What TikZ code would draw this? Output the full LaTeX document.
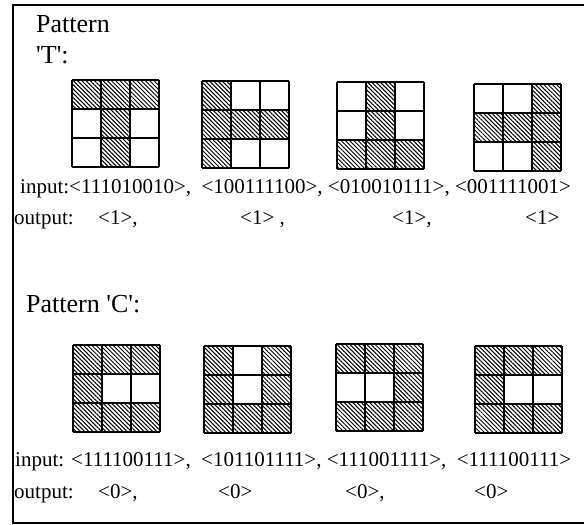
\documentclass[tikz,border=0pt]{standalone}
\usepackage{fontspec}
\setmainfont{Liberation Serif}
\usetikzlibrary{patterns.meta}
\tikzset{
  hatch/.style={pattern={Lines[angle=-45,distance=3pt,line width=1pt]}},
  gridline/.style={line width=1.3pt,black},
  frame/.style={line width=1.8pt,black},
  title/.style={anchor=base west,inner sep=0pt,font=\fontsize{26}{30}\selectfont},
  code/.style={anchor=base west,inner sep=0pt,font=\fontsize{21}{25}\selectfont},
}
\newcommand{\hgrid}[3]{%
  \foreach \b [count=\k from 0] in {#3} {
    \pgfmathtruncatemacro\rr{\k/3}
    \pgfmathtruncatemacro\cc{mod(\k,3)}
    \ifnum\b=1 \fill[hatch] (#1+\cc*29,#2+\rr*29) rectangle ++(29,29);\fi
  }
  \foreach \i in {0,...,3} {
    \draw[gridline] (#1+\i*29,#2) -- (#1+\i*29,#2+87);
    \draw[gridline] (#1,#2+\i*29) -- (#1+87,#2+\i*29);
  }
}
\begin{document}
\begin{tikzpicture}[x=1pt,y=-1pt]
\useasboundingbox (0,0) rectangle (584,525);
\fill[white] (0,0) rectangle (584,525);
% frame
\draw[frame] (584,5) -- (13,5) -- (13,523) -- (584,523);
% titles
\node[title] (tp) at (36,32) {Pattern};
\node[title] (tt) at (36,63) {\textquotesingle T\textquotesingle:};
\node[title] (cp) at (26,312) {Pattern \textquotesingle C\textquotesingle:};
% T grids
\hgrid{72}{80}{1,1,1,0,1,0,0,1,0}
\hgrid{202}{81}{1,0,0,1,1,1,1,0,0}
\hgrid{337}{82}{0,1,0,0,1,0,1,1,1}
\hgrid{474}{84}{0,0,1,1,1,1,0,0,1}
% C grids
\hgrid{73}{345}{1,1,1,1,0,0,1,1,1}
\hgrid{204}{346}{1,0,1,1,0,1,1,1,1}
\hgrid{336}{344}{1,1,1,0,0,1,1,1,1}
\hgrid{475}{346}{1,1,1,1,0,0,1,1,1}
% T texts
\node[code] (ti) at (20,193) {input:<111010010>,\ \ <100111100>, <010010111>, <001111001>};
\node[code] (to) at (14,224) {output:};
\node[code] (to1) at (98,224) {<1>,};
\node[code] (to2) at (240,224) {<1> ,};
\node[code] (to3) at (392,224) {<1>,};
\node[code] (to4) at (525,224) {<1>};
% C texts
\node[code] (ci) at (15,466) {input: <111100111>,\ \ <101101111>, <111001111>,\ \ <111100111>};
\node[code] (co) at (14,498) {output:};
\node[code] (co1) at (98,498) {<0>,};
\node[code] (co2) at (218,498) {<0>};
\node[code] (co3) at (345,498) {<0>,};
\node[code] (co4) at (474,498) {<0>};
\end{tikzpicture}
\end{document}
